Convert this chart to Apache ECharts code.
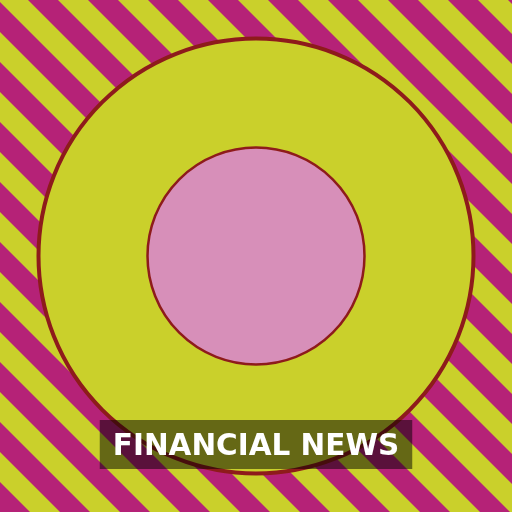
<!DOCTYPE html>
<html>
<head>
<meta charset="utf-8">
<script src="https://cdn.jsdelivr.net/npm/echarts@6/dist/echarts.min.js"></script>
<style>
	html, body { margin: 0; padding: 0; }
	#chart { width: 512px; height: 512px; }
</style>
</head>
<body>
<div id="chart"></div>
<script>
// chart data
const categories = ["FINANCIAL NEWS"];
const outerValues = [1];
const innerValues = [1];
const titleText = "FINANCIAL NEWS";

const yellow = "#cad02b";
const magenta = "#b52277";
const darkRed = "#8e1b1b";
const pink = "#d78fb9";

// diagonal stripes: magenta where (x - y) mod 60 is in [28, 58)
function makeStripes() {
	const period = 60;
	const items = [
		{
			type: "rect",
			z: -10,
			shape: { x: 0, y: 0, width: 512, height: 512 },
			style: { fill: yellow },
			silent: true,
		},
	];
	for (let c = 28 - period * 10; c < 512; c += period) {
		const c0 = c;
		const c1 = c + 30;
		items.push({
			type: "polygon",
			z: -9,
			silent: true,
			shape: {
				points: [
					[c0 - 10, -10],
					[c1 - 10, -10],
					[c1 + 522, 522],
					[c0 + 522, 522],
				],
			},
			style: { fill: magenta },
		});
	}
	return items;
}

const myChart = echarts.init(document.getElementById("chart"));

myChart.setOption({
	animation: false,
	graphic: makeStripes(),
	title: {
		text: titleText,
		left: "center",
		top: 420,
		padding: [11, 13, 6, 13],
		backgroundColor: "rgba(0,0,0,0.5)",
		textStyle: {
			color: "#ffffff",
			fontFamily: "DejaVu Sans",
			fontWeight: "bold",
			fontSize: 29.5,
			lineHeight: 32,
		},
	},
	series: [
		{
			type: "pie",
			center: ["50%", "50%"],
			radius: [0, 217.5],
			silent: true,
			label: { show: false },
			labelLine: { show: false },
			itemStyle: { color: yellow, borderColor: darkRed, borderWidth: 4 },
			data: categories.map((name, i) => ({ name: name, value: outerValues[i] })),
		},
		{
			type: "pie",
			center: ["50%", "50%"],
			radius: [0, 108.5],
			silent: true,
			label: { show: false },
			labelLine: { show: false },
			itemStyle: { color: pink, borderColor: darkRed, borderWidth: 2.5 },
			data: categories.map((name, i) => ({ name: name, value: innerValues[i] })),
		},
	],
});
</script>
</body>
</html>
